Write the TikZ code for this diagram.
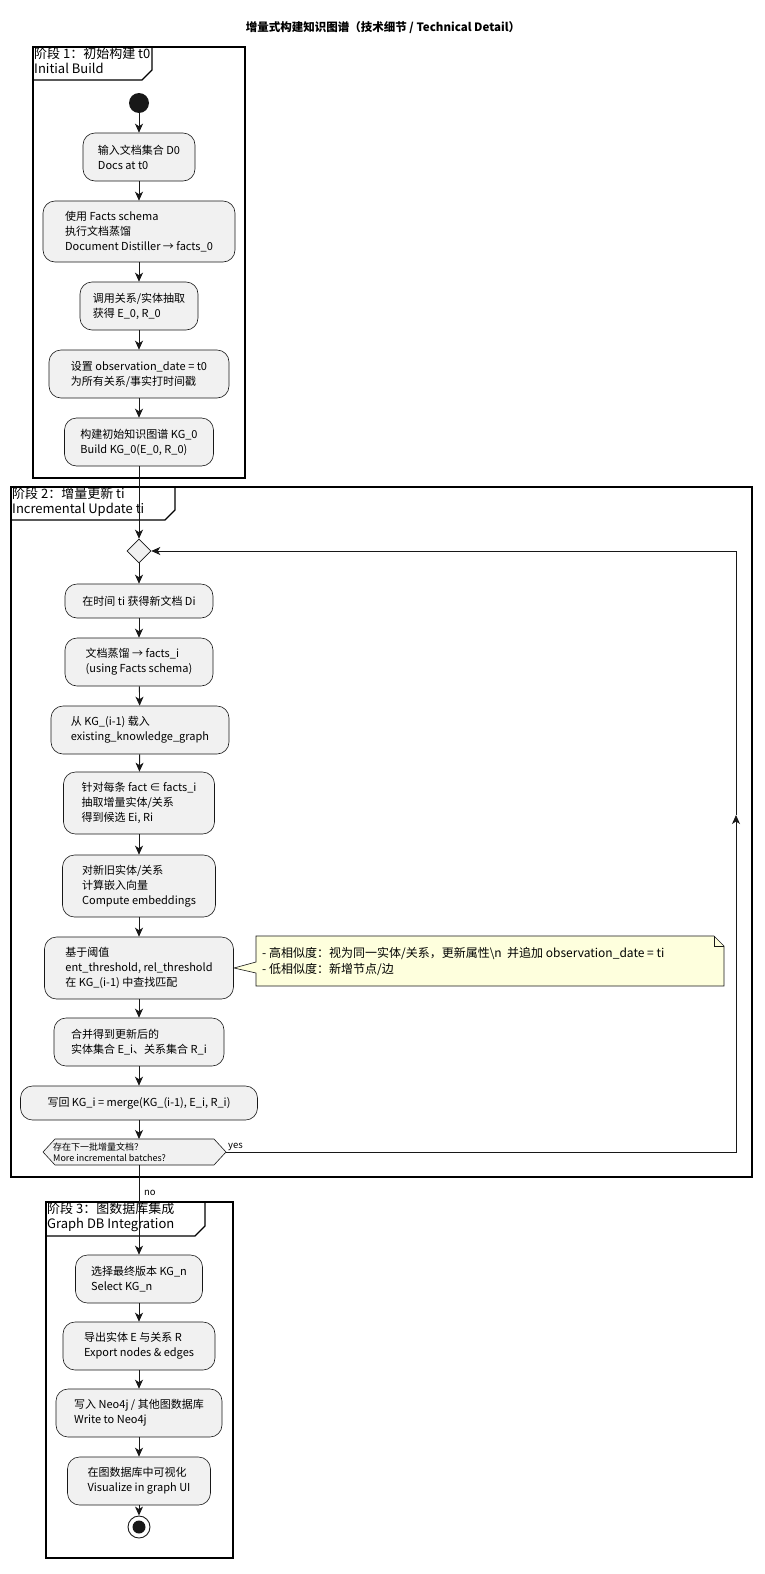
\documentclass[tikz,border=0pt]{standalone}
\usepackage{fontspec}
\setmainfont{Noto Sans CJK SC}
\usetikzlibrary{arrows.meta,shapes.geometric}
\definecolor{boxfill}{HTML}{F1F1F1}
\definecolor{boxline}{HTML}{181818}
\definecolor{notefill}{HTML}{FEFFDD}
\begin{document}
\begin{tikzpicture}[x=1pt,y=-1pt,
  box/.style={draw=boxline,fill=boxfill,rounded corners=12pt,align=left,font=\fontsize{11}{15}\selectfont,inner sep=0pt,line width=0.6pt},
  arr/.style={-{Stealth[length=9pt,width=8pt,inset=2.5pt]},line width=0.9pt,draw=boxline},
  part/.style={line width=1.2pt,draw=black},
  plabel/.style={anchor=north west,align=left,font=\fontsize{13}{15}\selectfont,inner sep=1pt}]
\useasboundingbox (0,0) rectangle (765,1574);
\node[font=\bfseries\fontsize{11.5}{13}\selectfont] (title) at (383,28) {增量式构建知识图谱（技术细节 / Technical Detail）};
% partition 1
\draw[part] (33,47) rectangle (245,478);
\draw[part] (33,80) -- (142,80) -- (152,70) -- (152,47);
\node[plabel] (p1) at (33,46) {阶段 1：初始构建 t0\\Initial Build};
\node[circle,fill=boxline,minimum size=20pt,inner sep=0pt] (start) at (139,103) {};
\node[box,minimum width=112pt,minimum height=48pt] (a1) at (139,157) {输入文档集合 D0\\Docs at t0};
\node[box,minimum width=192pt,minimum height=61pt] (a2) at (139,231.5) {使用 Facts schema\\执行文档蒸馏\\Document Distiller → facts\_0};
\node[box,minimum width=118pt,minimum height=48pt] (a3) at (139,306) {调用关系/实体抽取\\获得 E\_0, R\_0};
\node[box,minimum width=180pt,minimum height=48pt] (a4) at (139,374) {设置 observation\_date = t0\\为所有关系/事实打时间戳};
\node[box,minimum width=149pt,minimum height=48pt] (a5) at (139,442) {构建初始知识图谱 KG\_0\\Build KG\_0(E\_0, R\_0)};
% partition 2
\draw[part] (11,487) rectangle (752,1177);
\draw[part] (11,520) -- (165,520) -- (175,510) -- (175,487);
\node[plabel] (p2) at (11,486) {阶段 2：增量更新 ti\\Incremental Update ti};
\node[diamond,draw=boxline,fill=boxfill,minimum size=24pt,inner sep=0pt,line width=0.6pt] (dia) at (139,551) {};
\node[box,minimum width=148pt,minimum height=34pt] (b1) at (139,601) {在时间 ti 获得新文档 Di};
\node[box,minimum width=148pt,minimum height=48pt] (b2) at (139,662) {文档蒸馏 → facts\_i\\(using Facts schema)};
\node[box,minimum width=178pt,minimum height=48pt] (b3) at (140,730) {从 KG\_(i-1) 载入\\existing\_knowledge\_graph};
\node[box,minimum width=151pt,minimum height=62pt] (b4) at (139,803) {针对每条 fact ∈ facts\_i\\抽取增量实体/关系\\得到候选 Ei, Ri};
\node[box,minimum width=153pt,minimum height=62pt] (b5) at (139,886) {对新旧实体/关系\\计算嵌入向量\\Compute embeddings};
\node[box,minimum width=189pt,minimum height=62pt] (b6) at (139,968) {基于阈值\\ent\_threshold, rel\_threshold\\在 KG\_(i-1) 中查找匹配};
\node[box,minimum width=170pt,minimum height=48pt] (b7) at (139,1042) {合并得到更新后的\\实体集合 E\_i、关系集合 R\_i};
\node[box,minimum width=237pt,minimum height=34pt] (b8) at (139,1103) {写回 KG\_i = merge(KG\_(i-1), E\_i, R\_i)};
% note
\draw[draw=boxline,fill=notefill,line width=0.6pt] (256,936) -- (714,936) -- (724,946) -- (724,986) -- (256,986) -- (256,973) -- (234,968) -- (256,962) -- cycle;
\draw[draw=boxline,line width=0.6pt] (714,936) -- (714,946) -- (724,946);
\node[anchor=west,align=left,font=\fontsize{12}{16}\selectfont,inner sep=0pt] (note) at (262,961) {- 高相似度：视为同一实体/关系，更新属性\textbackslash n\ \ 并追加 observation\_date = ti\\- 低相似度：新增节点/边};
% decision
\draw[draw=boxline,fill=boxfill,line width=0.6pt] (43,1152) -- (55,1139) -- (214,1139) -- (226,1152) -- (214,1165) -- (55,1165) -- cycle;
\coordinate (decE) at (226,1152);
\coordinate (decS) at (139,1165);
\coordinate (decN) at (139,1139);
\node[anchor=west,align=left,font=\fontsize{9}{11}\selectfont,inner sep=0pt] (dec) at (53,1152) {存在下一批增量文档？\\More incremental batches?};
\node[anchor=south west,font=\fontsize{9.5}{10}\selectfont,inner sep=1pt] (yes) at (227,1152) {yes};
\node[anchor=west,font=\fontsize{9.5}{10}\selectfont,inner sep=1pt] (no) at (143,1193) {no};
% partition 3
\draw[part] (46,1202) rectangle (233,1558);
\draw[part] (46,1236) -- (195,1236) -- (205,1226) -- (205,1202);
\node[plabel] (p3) at (46,1201) {阶段 3：图数据库集成\\Graph DB Integration};
\node[box,minimum width=127pt,minimum height=48pt] (c1) at (139,1279) {选择最终版本 KG\_n\\Select KG\_n};
\node[box,minimum width=152pt,minimum height=48pt] (c2) at (139,1346) {导出实体 E 与关系 R\\Export nodes \& edges};
\node[box,minimum width=166pt,minimum height=48pt] (c3) at (139,1413) {写入 Neo4j / 其他图数据库\\Write to Neo4j};
\node[box,minimum width=143pt,minimum height=48pt] (c4) at (139,1481) {在图数据库中可视化\\Visualize in graph UI};
\node[circle,draw=boxline,line width=0.9pt,minimum size=22pt,inner sep=0pt] (end) at (139,1527) {};
\node[circle,fill=boxline,minimum size=13pt,inner sep=0pt] (endin) at (139,1527) {};
% connectors
\draw[arr] (start) -- (a1);
\draw[arr] (a1) -- (a2);
\draw[arr] (a2) -- (a3);
\draw[arr] (a3) -- (a4);
\draw[arr] (a4) -- (a5);
\draw[arr] (a5) -- (dia);
\draw[arr] (dia) -- (b1);
\draw[arr] (b1) -- (b2);
\draw[arr] (b2) -- (b3);
\draw[arr] (b3) -- (b4);
\draw[arr] (b4) -- (b5);
\draw[arr] (b5) -- (b6);
\draw[arr] (b6) -- (b7);
\draw[arr] (b7) -- (b8);
\draw[arr] (b8) -- (decN);
\draw[arr] (decE) -- (736,1152) -- (736,815);
\draw[arr] (736,815) -- (736,551) -- (dia.east);
\draw[arr] (decS) -- (c1);
\draw[arr] (c1) -- (c2);
\draw[arr] (c2) -- (c3);
\draw[arr] (c3) -- (c4);
\draw[arr] (c4) -- (end);
\end{tikzpicture}
\end{document}
